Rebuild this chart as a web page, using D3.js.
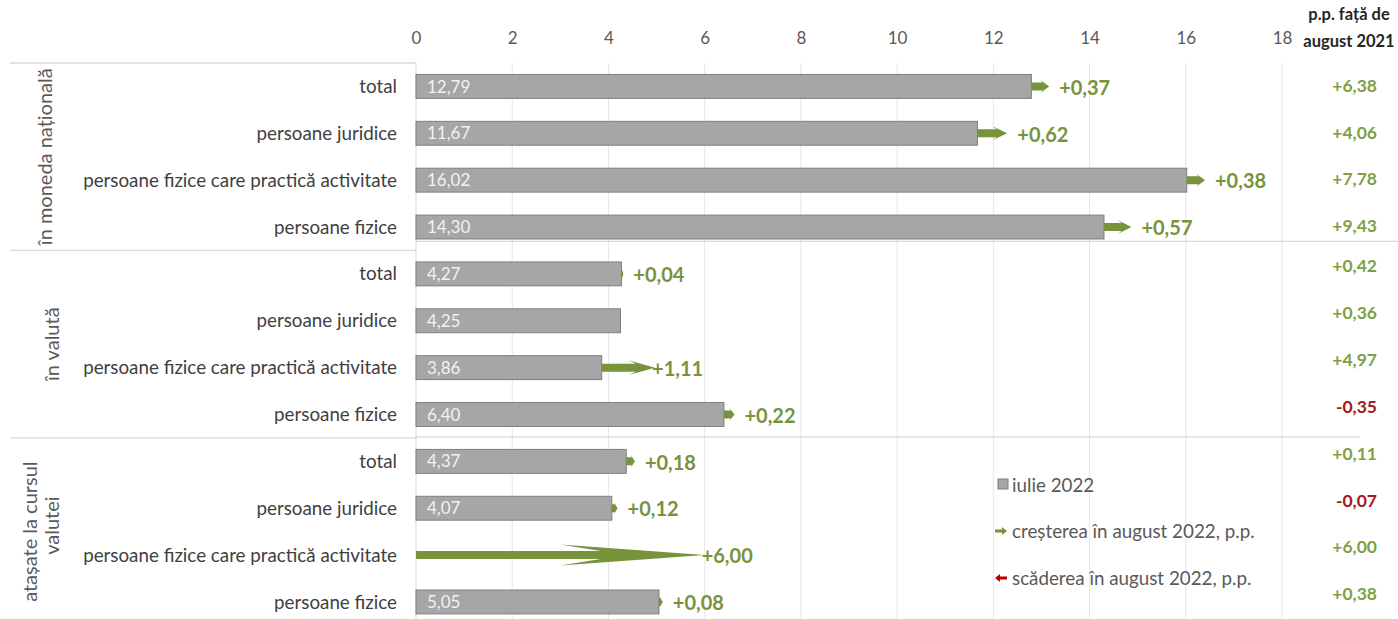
<!DOCTYPE html>
<html><head><meta charset="utf-8">
<script src="https://cdn.jsdelivr.net/npm/d3@7"></script>
<style>
body{margin:0;background:#fff;}
svg{display:block;font-family:Lato,"Open Sans",sans-serif;}
</style></head>
<body>
<svg id="chart" width="1398" height="619"></svg>
<script>
// ---- data ----
const groups = ["în moneda națională", "în valută", "atașate la cursul valutei"];
const categories = ["total", "persoane juridice", "persoane fizice care practică activitate", "persoane fizice"];
const july2022 = [12.79, 11.67, 16.02, 14.30, 4.27, 4.25, 3.86, 6.40, 4.37, 4.07, null, 5.05];
const changeAug2022 = [0.37, 0.62, 0.38, 0.57, 0.04, null, 1.11, 0.22, 0.18, 0.12, 6.00, 0.08];
const vsAug2021 = [6.38, 4.06, 7.78, 9.43, 0.42, 0.36, 4.97, -0.35, 0.11, -0.07, 6.00, 0.38];
const xTicks = [0, 2, 4, 6, 8, 10, 12, 14, 16, 18];
const legendLabels = ["iulie 2022", "creșterea în august 2022, p.p.", "scăderea în august 2022, p.p."];
const headerLines = ["p.p. față de", "august 2021"];

// ---- layout ----
const svg = d3.select("#chart");
const pLeft = 416, pRight = 1282, pTop = 63, pBottom = 625.4;
const rows = d3.range(12);
const x = d3.scaleLinear().domain([0, 18]).range([pLeft, pRight]);
const y = d3.scaleBand().domain(rows).range([pTop, pBottom]).paddingInner(0.49).paddingOuter(0.245);
const step = y.step();
const cy = d => y(d) + y.bandwidth() / 2;
const fmt = v => d3.format(".2f")(Math.abs(v)).replace(".", ",");
const fmtSigned = v => (v < 0 ? "-" : "+") + fmt(v);
const green = "#77933c", red = "#c00000", gridC = "#e6e6e6", lineC = "#d9d9d9";

// gridlines
svg.append("g").selectAll("line").data(xTicks).join("line")
  .attr("x1", d => x(d)).attr("x2", d => x(d))
  .attr("y1", pTop).attr("y2", 619)
  .attr("stroke", (d, i) => i === 0 ? lineC : gridC).attr("stroke-width", 1);

// axis (top)
const axis = d3.axisTop(x).tickValues(xTicks).tickSize(0).tickPadding(0).tickFormat(d => d);
const ag = svg.append("g").attr("transform", "translate(0,44)").call(axis);
ag.select(".domain").remove();
ag.selectAll("text").attr("fill", "#595959").attr("font-size", 17).attr("font-family", "Lato");

// left table lines
const groupBounds = [0, 4, 8].map(i => y(i) - y.paddingOuter() * step);
svg.append("g").selectAll("line").data(groupBounds).join("line")
  .attr("x1", 10).attr("x2", pLeft).attr("y1", d => d).attr("y2", d => d)
  .attr("stroke", lineC).attr("stroke-width", 1.3);
// plot separators
svg.append("g").selectAll("line").data(groupBounds.slice(1)).join("line")
  .attr("x1", pLeft).attr("x2", (d, i) => i === 0 ? 1398 : 1360)
  .attr("y1", (d, i) => i === 0 ? d - 9 : d - 1).attr("y2", (d, i) => i === 0 ? d - 9 : d - 1)
  .attr("stroke", lineC).attr("stroke-width", 1.3);

// group labels
const gl = svg.append("g").attr("fill", "#595959").attr("font-size", 20);
const groupCenters = [0, 1, 2].map(g => (y(g * 4) + y(g * 4 + 3) + y.bandwidth()) / 2);
gl.append("text").attr("transform", `translate(52,${groupCenters[0]}) rotate(-90)`).attr("text-anchor", "middle").text(groups[0]);
gl.append("text").attr("transform", `translate(59,${groupCenters[1]}) rotate(-90)`).attr("text-anchor", "middle").text(groups[1]);
gl.append("text").attr("transform", `translate(37,${groupCenters[2]}) rotate(-90)`).attr("text-anchor", "middle").text("atașate la cursul");
gl.append("text").attr("transform", `translate(59,${groupCenters[2] - 6}) rotate(-90)`).attr("text-anchor", "middle").text("valutei");

// category labels (fit longest to reference width)
const catText = svg.append("g").selectAll("text").data(rows).join("text")
  .attr("x", 397).attr("y", d => cy(d)).attr("dy", "0.35em")
  .attr("text-anchor", "end").attr("fill", "#404040").attr("font-size", 16)
  .text(d => categories[d % 4]);
const longest = d3.max(catText.nodes(), n => n.getComputedTextLength());
catText.attr("font-size", 16 * 314 / longest);

// bars
const barRows = rows.filter(i => july2022[i] != null);
svg.append("g").selectAll("rect").data(barRows).join("rect")
  .attr("x", x(0)).attr("y", d => y(d)).attr("width", d => x(july2022[d]) - x(0)).attr("height", y.bandwidth())
  .attr("fill", "#a6a6a6").attr("stroke", "#7f7f7f").attr("stroke-width", 1);
svg.append("g").selectAll("text").data(barRows).join("text")
  .attr("x", x(0) + 11).attr("y", d => cy(d)).attr("dy", "0.36em")
  .attr("fill", "#f2f2f2").attr("font-size", 17).text(d => fmt(july2022[d]));

// arrows
function arrowPath(x0, x1, c) {
  const len = x1 - x0;
  const hl = Math.max(len * 0.5, Math.min(len, 4));
  const s = 4, h = Math.min(10.5, 6.5 + len * 0.015);
  const notch = x1 - hl * 0.72;
  return `M${x0},${c - s}L${notch},${c - s}L${x1 - hl},${c - h}L${x1},${c}L${x1 - hl},${c + h}L${notch},${c + s}L${x0},${c + s}Z`;
}
const arrRows = rows.filter(i => changeAug2022[i] != null);
svg.append("g").selectAll("path").data(arrRows).join("path")
  .attr("d", d => {
    const b = july2022[d] || 0;
    return arrowPath(x(b), x(b + changeAug2022[d]), cy(d));
  })
  .attr("fill", d => changeAug2022[d] >= 0 ? green : red);
svg.append("g").selectAll("text").data(arrRows).join("text")
  .attr("x", d => x((july2022[d] || 0) + changeAug2022[d]) + (changeAug2022[d] > 1 ? -3 : 10))
  .attr("y", d => cy(d) + 1).attr("dy", "0.36em")
  .attr("fill", green).attr("font-size", 20).attr("font-weight", "bold")
  .text(d => fmtSigned(changeAug2022[d]));

// right column
const hdr = svg.append("g").attr("font-size", 16.5).attr("font-weight", "bold").attr("fill", "#262626").attr("text-anchor", "middle");
hdr.selectAll("text").data(headerLines).join("text")
  .attr("x", 1349).attr("y", (d, i) => 20 + i * 27).text(d => d);
svg.append("g").selectAll("text").data(rows).join("text")
  .attr("x", 1377).attr("y", d => cy(d) - (d < 4 ? 1 : 8)).attr("dy", "0.36em")
  .attr("text-anchor", "end").attr("font-size", 17.5).attr("font-weight", "bold")
  .attr("fill", d => vsAug2021[d] < 0 ? "#a31b1b" : "#7f9f45")
  .text(d => fmtSigned(vsAug2021[d]));

// legend
const lg = svg.append("g").attr("font-size", 18.8).attr("fill", "#595959");
lg.append("rect").attr("x", 998).attr("y", 479).attr("width", 10).attr("height", 10)
  .attr("fill", "#a6a6a6").attr("stroke", "#7f7f7f");
lg.append("path").attr("d", "M995,529.5L1002,529.5L1002,527L1007,531L1002,535L1002,532.5L995,532.5Z").attr("fill", green);
lg.append("path").attr("d", "M1007,576.5L1000,576.5L1000,574L995,578L1000,582L1000,579.5L1007,579.5Z").attr("fill", red);
lg.selectAll("text").data(legendLabels).join("text")
  .attr("x", 1012).attr("y", (d, i) => 485 + i * 46.5).attr("dy", "0.35em").text(d => d);
</script>
</body></html>
